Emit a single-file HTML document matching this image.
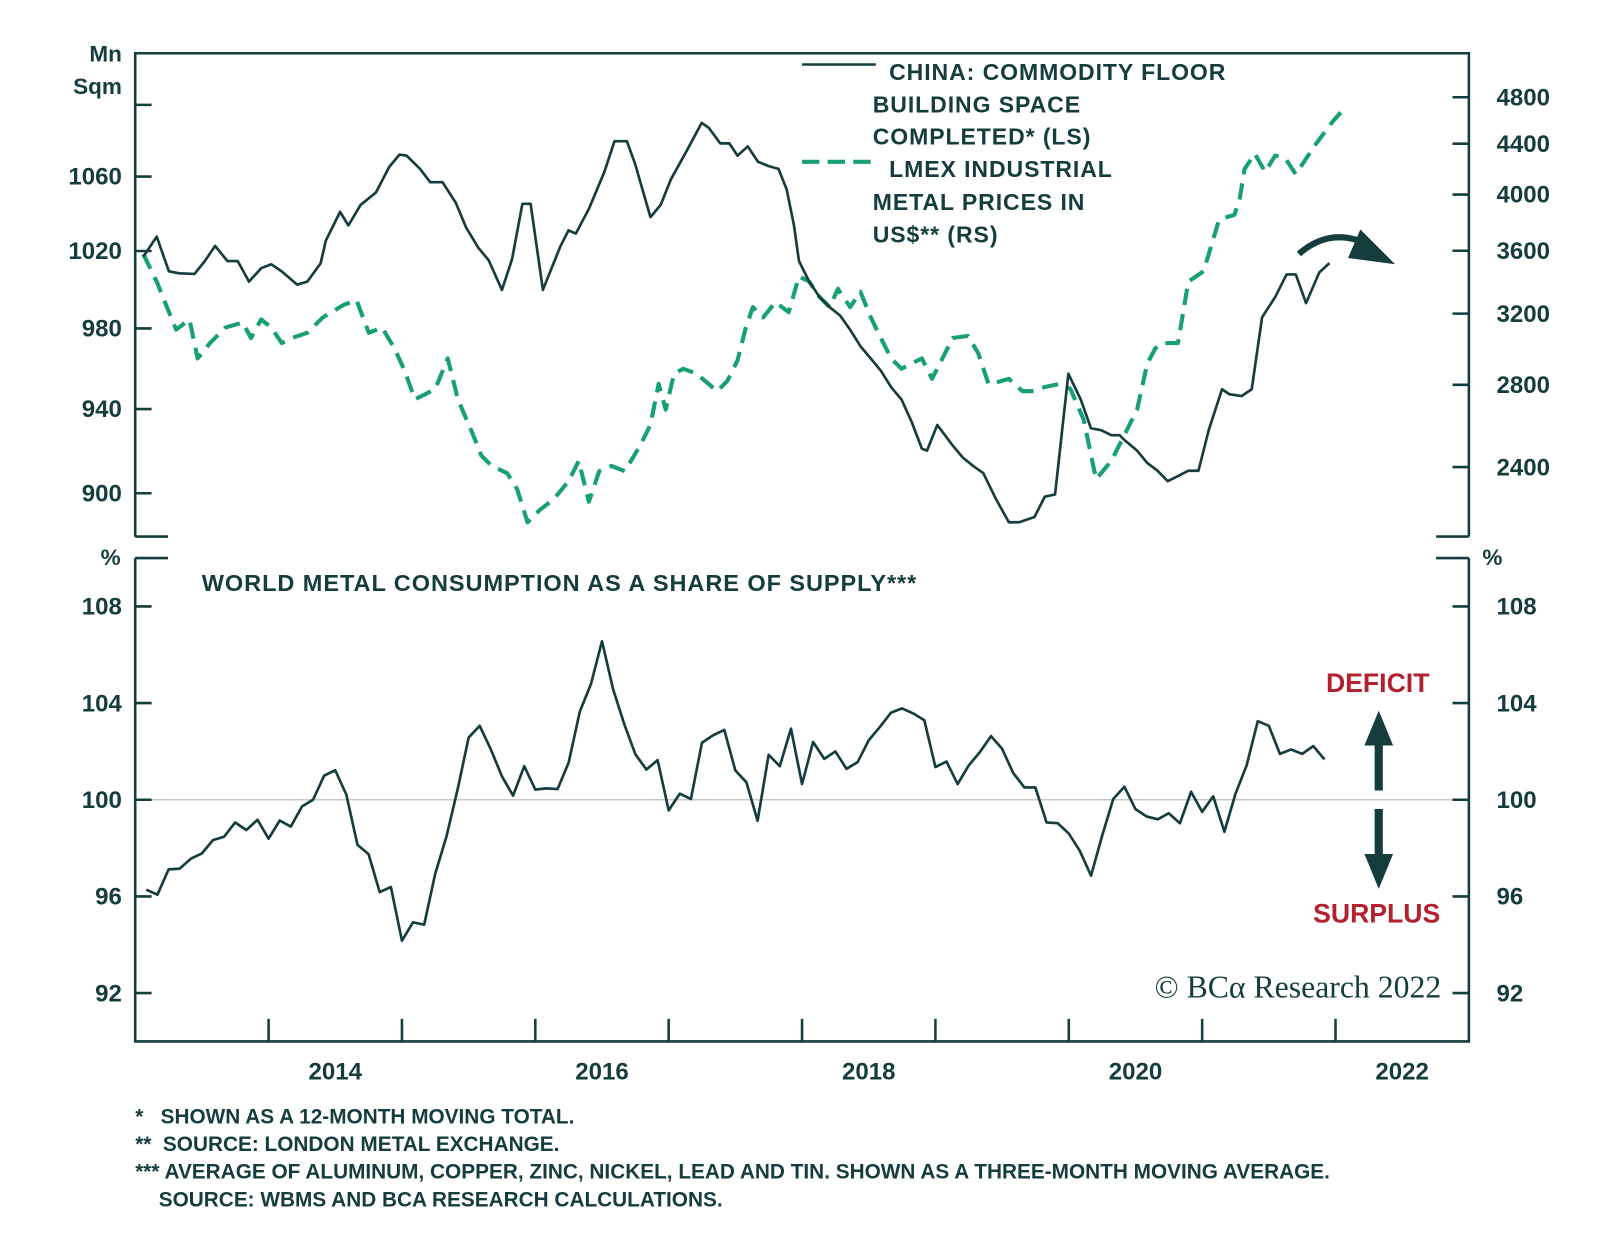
<!DOCTYPE html>
<html><head><meta charset="utf-8">
<style>
html,body{margin:0;padding:0;background:#fff;}
svg{display:block;}
text{font-family:"Liberation Sans",Arial,sans-serif;font-weight:bold;fill:#163d3d;white-space:pre;}
</style></head>
<body>
<svg id="chart" width="1600" height="1237" viewBox="0 0 1562 1208" preserveAspectRatio="none" xmlns="http://www.w3.org/2000/svg">
<g id="frame" stroke="#163d3d" stroke-width="2.5" fill="none">
  <path d="M132,524 V52 H1434 V524 M132,524 H164 M1402,524 H1434"/>
  <path d="M132,545 V1017 H1434 V545 M132,545 H164 M1402,545 H1434"/>
</g>
<line x1="132" x2="1434" y1="781" y2="781" stroke="#c8c8c8" stroke-width="1.5"/>
<g id="axes"></g>
<g id="series"></g>

<g>
  <line x1="783" x2="855" y1="63" y2="63" stroke="#163d3d" stroke-width="2.5"/>
  <text font-size="22.5" letter-spacing="0.9"><tspan x="868" y="78">CHINA: COMMODITY FLOOR</tspan><tspan x="852" y="110">BUILDING SPACE</tspan><tspan x="852" y="141">COMPLETED* (LS)</tspan></text>
  <line x1="783" x2="857" y1="158" y2="158" stroke="#17a077" stroke-width="4" stroke-dasharray="17,8"/>
  <text font-size="22.5" letter-spacing="0.9"><tspan x="868" y="173">LMEX INDUSTRIAL</tspan><tspan x="852" y="205">METAL PRICES IN</tspan><tspan x="852" y="237">US$** (RS)</tspan></text>
</g>
<text font-size="22" text-anchor="end"><tspan x="119" y="60">Mn</tspan><tspan x="119" y="92">Sqm</tspan></text>
<text font-size="22" x="108" y="552" text-anchor="middle">%</text>
<text font-size="22" x="1457" y="552" text-anchor="middle">%</text>
<text font-size="23" x="197" y="577" letter-spacing="0.9">WORLD METAL CONSUMPTION AS A SHARE OF SUPPLY***</text>

<g>
  <path d="M1268,248 Q1300,220 1338,240" stroke="#163d3d" stroke-width="6" fill="none"/>
  <polygon points="1328,224 1362,258 1316,252" fill="#163d3d"/>
</g>
<text font-size="26" x="1345" y="676" text-anchor="middle" style="fill:#b32030;">DEFICIT</text>
<text font-size="26" x="1344" y="901" text-anchor="middle" style="fill:#b32030;">SURPLUS</text>
<g><rect x="1342" y="722" width="8" height="50" fill="#163d3d"/><polygon points="1332,728 1346,694 1360,728" fill="#163d3d"/></g>
<g><rect x="1342" y="790" width="8" height="50" fill="#163d3d"/><polygon points="1332,834 1346,868 1360,834" fill="#163d3d"/></g>
<text x="1407" y="974" text-anchor="end" font-size="31" style="font-family:'Liberation Serif',serif;font-weight:normal">© BCα Research 2022</text>

<g font-size="20.3">
  <text x="132" y="1097">*   SHOWN AS A 12-MONTH MOVING TOTAL.</text>
  <text x="132" y="1124">**  SOURCE: LONDON METAL EXCHANGE.</text>
  <text x="132" y="1151">*** AVERAGE OF ALUMINUM, COPPER, ZINC, NICKEL, LEAD AND TIN. SHOWN AS A THREE-MONTH MOVING AVERAGE.</text>
  <text x="155" y="1178">SOURCE: WBMS AND BCA RESEARCH CALCULATIONS.</text>
</g>
</svg>
<script>
const blackDates=[2013.061,2013.161,2013.253,2013.330,2013.445,2013.522,2013.599,2013.691,2013.768,2013.853,2013.945,2014.021,2014.098,2014.214,2014.290,2014.390,2014.429,2014.536,2014.598,2014.690,2014.805,2014.905,2014.982,2015.035,2015.135,2015.212,2015.304,2015.404,2015.481,2015.573,2015.650,2015.750,2015.826,2015.903,2015.965,2016.057,2016.187,2016.249,2016.303,2016.402,2016.518,2016.594,2016.687,2016.748,2016.863,2016.940,2017.017,2017.132,2017.247,2017.301,2017.386,2017.455,2017.516,2017.593,2017.670,2017.747,2017.823,2017.885,2017.939,2017.977,2018.054,2018.131,2018.207,2018.284,2018.361,2018.438,2018.515,2018.591,2018.668,2018.745,2018.822,2018.899,2018.937,2019.014,2019.129,2019.206,2019.283,2019.359,2019.452,2019.551,2019.628,2019.743,2019.820,2019.897,2019.997,2020.089,2020.166,2020.243,2020.319,2020.381,2020.419,2020.512,2020.588,2020.665,2020.742,2020.819,2020.896,2020.972,2021.049,2021.149,2021.203,2021.295,2021.372,2021.449,2021.548,2021.633,2021.702,2021.779,2021.879,2021.955];
const blackValues=[1017,1027.6,1009.3,1008.3,1008,1014.7,1022.7,1014.7,1014.7,1004,1011,1013,1009.3,1002.4,1004,1013.5,1025.5,1040.8,1033.6,1044.6,1051.3,1065.3,1072.1,1071.5,1064.2,1056.9,1056.9,1045.7,1032.5,1021.7,1015.2,999.7,1015.7,1045.2,1045.2,999.7,1022.2,1030.9,1029.2,1042.4,1062.5,1079.5,1079.5,1067,1038,1044.6,1058.5,1073.8,1089.8,1087,1078.3,1078.3,1071.5,1076.6,1068.1,1065.8,1064.2,1053,1033.6,1014.7,1004,996,990.8,986.6,979.3,971,964.9,958.8,950.7,944.7,933.8,921,920,932.3,922.5,916.7,912.8,909.4,897.5,886.6,886.6,889,898.4,899.4,957.3,944.7,930.8,929.8,927.4,927.4,925,920,914.2,910.5,905.6,908,910.5,910.5,929.8,949.7,947.3,946.3,949.7,985.6,996,1007.7,1007.7,992.9,1008.8,1013.6];
const greenDates=[2013.061,2013.161,2013.238,2013.307,2013.407,2013.468,2013.561,2013.676,2013.806,2013.868,2013.945,2014.021,2014.098,2014.175,2014.290,2014.406,2014.559,2014.659,2014.751,2014.851,2014.943,2015.020,2015.097,2015.174,2015.250,2015.343,2015.419,2015.519,2015.596,2015.673,2015.788,2015.865,2015.942,2016.034,2016.134,2016.249,2016.326,2016.402,2016.479,2016.571,2016.671,2016.786,2016.863,2016.925,2016.978,2017.040,2017.109,2017.209,2017.363,2017.439,2017.516,2017.578,2017.631,2017.708,2017.800,2017.900,2017.977,2018.054,2018.131,2018.207,2018.269,2018.361,2018.438,2018.515,2018.591,2018.668,2018.745,2018.822,2018.899,2018.975,2019.052,2019.129,2019.244,2019.321,2019.398,2019.475,2019.551,2019.651,2019.743,2019.820,2019.935,2020.012,2020.112,2020.204,2020.319,2020.396,2020.512,2020.588,2020.650,2020.704,2020.819,2020.896,2021.011,2021.126,2021.187,2021.241,2021.280,2021.318,2021.395,2021.472,2021.548,2021.625,2021.702,2021.779,2021.856,2021.971,2022.071];
const greenValues=[3578,3398,3239,3105,3165,2942,3028,3117,3147,3057,3165,3117,3028,3057,3087,3177,3251,3283,3087,3117,2999,2875,2725,2751,2778,2942,2725,2572,2452,2405,2373,2301,2164,2215,2257,2337,2428,2249,2382,2405,2382,2499,2597,2805,2673,2859,2886,2859,2767,2820,2931,3117,3239,3177,3270,3208,3431,3398,3301,3239,3352,3239,3333,3177,3057,2942,2886,2914,2942,2832,2942,3057,3069,2971,2805,2816,2832,2767,2767,2789,2805,2778,2622,2346,2428,2523,2673,2914,2999,3028,3028,3398,3464,3813,3835,3850,3962,4196,4319,4173,4303,4278,4156,4278,4403,4575,4709];
const consStartYear=2013, consStartMonth=2;
const consValues=[96.28,96.07,97.12,97.15,97.56,97.78,98.33,98.47,99.06,98.75,99.17,98.39,99.14,98.89,99.72,100,101,101.22,100.21,98.13,97.75,96.18,96.39,94.17,94.93,94.83,96.94,98.47,100.42,102.57,103.06,102.08,100.97,100.17,101.39,100.42,100.47,100.44,101.53,103.64,104.79,106.56,104.58,103.13,101.88,101.25,101.64,99.56,100.25,100.03,102.36,102.67,102.89,101.21,100.72,99.13,101.86,101.39,102.94,100.65,102.39,101.69,102,101.28,101.56,102.46,103.01,103.6,103.78,103.57,103.29,101.35,101.58,100.65,101.42,101.97,102.63,102.11,101.11,100.51,100.51,99.06,99.03,98.6,97.88,96.86,98.5,100.03,100.54,99.61,99.31,99.19,99.44,99.03,100.33,99.5,100.14,98.68,100.24,101.42,103.25,103.06,101.9,102.08,101.9,102.22,101.67];
const leftTicks=[1100,1060,1020,980,940,900];
const leftLabels=["","1060","1020","980","940","900"];
const rightTicks=[4800,4400,4000,3600,3200,2800,2400];
const bottomTicks=[108,104,100,96,92];
const yearLabels=["2014","2016","2018","2020","2022"];

const NS="http://www.w3.org/2000/svg";
const X=t=>132+(t-2013)*130.2;
const YL=v=>172.4-1890*Math.log(v/1060);
const YR=v=>95-521*Math.log(v/4800);
const YB=v=>781-(v-100)*23.6;
function mk(tag,attrs,parent){const e=document.createElementNS(NS,tag);for(const k in attrs)e.setAttribute(k,attrs[k]);parent.appendChild(e);return e;}
const axes=document.getElementById('axes');
const series=document.getElementById('series');
const S="#163d3d";
const FS=23.5;

leftTicks.forEach((v,i)=>{
  const y=YL(v);
  const l=mk('line',{x1:132,x2:148,y1:y,y2:y,stroke:S,'stroke-width':2.5},axes);
  
  
  if(leftLabels[i]){const t=mk('text',{x:119,y:y+8,'text-anchor':'end','font-size':FS},axes);t.textContent=leftLabels[i];
  
  }
});
rightTicks.forEach(v=>{
  const y=YR(v);
  const l=mk('line',{x1:1418,x2:1434,y1:y,y2:y,stroke:S,'stroke-width':2.5},axes);
  
  
  const t=mk('text',{x:1461,y:y+8,'font-size':FS},axes);t.textContent=String(v);
  
  
});
bottomTicks.forEach(v=>{
  const y=YB(v);
  const l=mk('line',{x1:132,x2:148,y1:y,y2:y,stroke:S,'stroke-width':2.5},axes);
  
  
  const r=mk('line',{x1:1418,x2:1434,y1:y,y2:y,stroke:S,'stroke-width':2.5},axes);
  
  
  const t=mk('text',{x:119,y:y+8,'text-anchor':'end','font-size':FS},axes);t.textContent=String(v);
  
  
  const t2=mk('text',{x:1461,y:y+8,'font-size':FS},axes);t2.textContent=String(v);
  
  
});
for(let yr=2014;yr<=2022;yr++){
  const x=X(yr);
  const l=mk('line',{x1:x,x2:x,y1:995,y2:1017,stroke:S,'stroke-width':2.5},axes);
  
  
}
yearLabels.forEach(s=>{
  const t=mk('text',{x:X(+s+0.5),y:1054,'text-anchor':'middle','font-size':FS},axes);t.textContent=s;
  
  
});

function pathD(xs,ys){return xs.map((x,i)=>(i?'L':'M')+x.toFixed(1)+','+ys[i].toFixed(1)).join(' ');}
const g=mk('path',{d:pathD(greenDates.map(X),greenValues.map(YR)),fill:'none',stroke:'#17a077','stroke-width':4,'stroke-dasharray':'16,9','stroke-linejoin':'round'},series);


const b=mk('path',{d:pathD(blackDates.map(X),blackValues.map(YL)),fill:'none',stroke:S,'stroke-width':2.6,'stroke-linejoin':'round'},series);


const cx=consValues.map((v,i)=>X(consStartYear+(consStartMonth-1+i)/12));
const c=mk('path',{d:pathD(cx,consValues.map(YB)),fill:'none',stroke:S,'stroke-width':2.6,'stroke-linejoin':'round'},series);


</script>
</body></html>
